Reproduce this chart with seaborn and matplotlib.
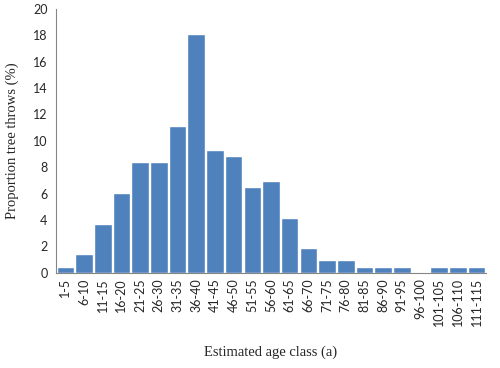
import matplotlib
matplotlib.use("Agg")
import matplotlib.pyplot as plt
import seaborn as sns
import pandas as pd
import numpy as np

# age classes and share of tree throws (%)
age_classes = ["1-5", "6-10", "11-15", "16-20", "21-25", "26-30", "31-35", "36-40",
               "41-45", "46-50", "51-55", "56-60", "61-65", "66-70", "71-75", "76-80",
               "81-85", "86-90", "91-95", "96-100", "101-105", "106-110", "111-115"]
proportion = [0.46, 1.39, 3.7, 6.02, 8.37, 8.37, 11.15, 18.1,
              9.28, 8.83, 6.48, 6.96, 4.17, 1.85, 0.93, 0.93,
              0.46, 0.46, 0.46, 0.0, 0.46, 0.46, 0.46]

df = pd.DataFrame({"age": age_classes, "prop": proportion})

sns.set_style("white")
fig = plt.figure(figsize=(5, 3.68), dpi=100)
ax = fig.add_axes([0.112, 0.259, 0.86, 0.7165])

sns.barplot(data=df, x="age", y="prop", color="#4F81BD", saturation=1,
            width=0.94, ax=ax)

grey = "#868686"
ax.set_ylim(0, 20)
ax.set_yticks(np.arange(0, 21, 2))
ax.set_xlim(-0.5, len(age_classes) - 0.5)

for s in ["top", "right"]:
    ax.spines[s].set_visible(False)
for s in ["left", "bottom"]:
    ax.spines[s].set_color(grey)
    ax.spines[s].set_linewidth(0.8)

tick_font = {"family": "Lato", "size": 9}
ax.set_xticks(range(len(age_classes)))
ax.set_xticklabels(age_classes, rotation=90, fontdict=tick_font)
ax.set_yticklabels([str(v) for v in range(0, 21, 2)], fontdict=tick_font)
ax.tick_params(axis="x", which="major", length=0, pad=4)
ax.set_xticks(np.arange(-0.5, len(age_classes), 1), minor=True)
ax.tick_params(axis="x", which="minor", length=4, color=grey, direction="out")
ax.tick_params(axis="y", length=4, color=grey, direction="out", pad=2)

lab_font = {"family": "Liberation Serif", "size": 10.5}
ax.set_xlabel("Estimated age class (a)", fontdict=lab_font, labelpad=14)
ax.set_ylabel("Proportion tree throws (%)", fontdict=lab_font, labelpad=10)

fig.savefig("out.png", dpi=100)
